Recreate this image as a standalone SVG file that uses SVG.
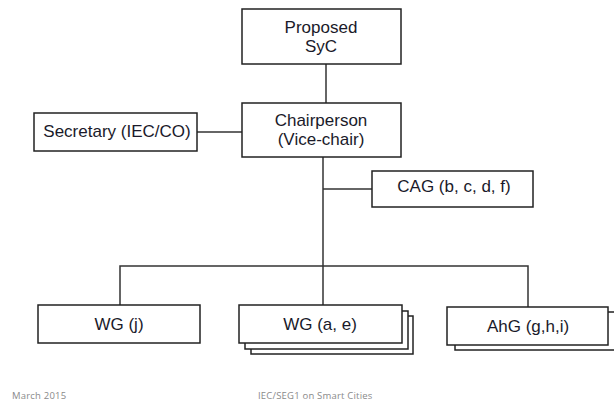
<svg xmlns="http://www.w3.org/2000/svg" width="614" height="404" viewBox="0 0 614 404">
<style>
.box{fill:#fff;stroke:#222;stroke-width:1.5}
.ln{fill:none;stroke:#333;stroke-width:1.5}
.t{font-family:"Liberation Sans",Arial,sans-serif;font-size:17px;fill:#1a1a2a;text-anchor:middle}
.f{font-family:"Open Sans","Liberation Sans",sans-serif;font-size:9.5px;fill:#8a8a8a;letter-spacing:0.2px}
</style>
<rect width="614" height="404" fill="#fff"/>
<g id="connectors">
<line class="ln" x1="326" y1="64" x2="326" y2="103"/>
<line class="ln" x1="197" y1="132" x2="242" y2="132"/>
<line class="ln" x1="323" y1="157" x2="323" y2="305"/>
<line class="ln" x1="323" y1="189" x2="372" y2="189"/>
<polyline class="ln" points="120,305 120,266 528,266 528,307"/>
</g>
<g id="proposed-syc">
<rect class="box" x="242" y="9" width="159" height="55"/>
<text class="t" x="321" y="33">Proposed</text>
<text class="t" x="321" y="52">SyC</text>
</g>
<g id="chairperson">
<rect class="box" x="242" y="103" width="159" height="54"/>
<text class="t" x="321" y="126">Chairperson</text>
<text class="t" x="321" y="145">(Vice-chair)</text>
</g>
<g id="secretary">
<rect class="box" x="34" y="113" width="163" height="38"/>
<text class="t" x="117" y="137">Secretary (IEC/CO)</text>
</g>
<g id="cag">
<rect class="box" x="372" y="171" width="161" height="36"/>
<text class="t" x="454" y="192">CAG (b, c, d, f)</text>
</g>
<g id="wg-j">
<rect class="box" x="38" y="305" width="162" height="38"/>
<text class="t" x="119" y="330">WG (j)</text>
</g>
<g id="wg-ae">
<rect class="box" x="251" y="316" width="162" height="38"/>
<rect class="box" x="245" y="311" width="163" height="38"/>
<rect class="box" x="239" y="305" width="163" height="38"/>
<text class="t" x="320" y="330">WG (a, e)</text>
</g>
<g id="ahg">
<rect class="box" x="455" y="312" width="170" height="38"/>
<rect class="box" x="447" y="307" width="161" height="38"/>
<text class="t" x="528" y="332">AhG (g,h,i)</text>
</g>
<g id="footer">
<text class="f" x="12" y="399">March 2015</text>
<text class="f" x="258" y="399">IEC/SEG1 on Smart Cities</text>
</g>
</svg>
